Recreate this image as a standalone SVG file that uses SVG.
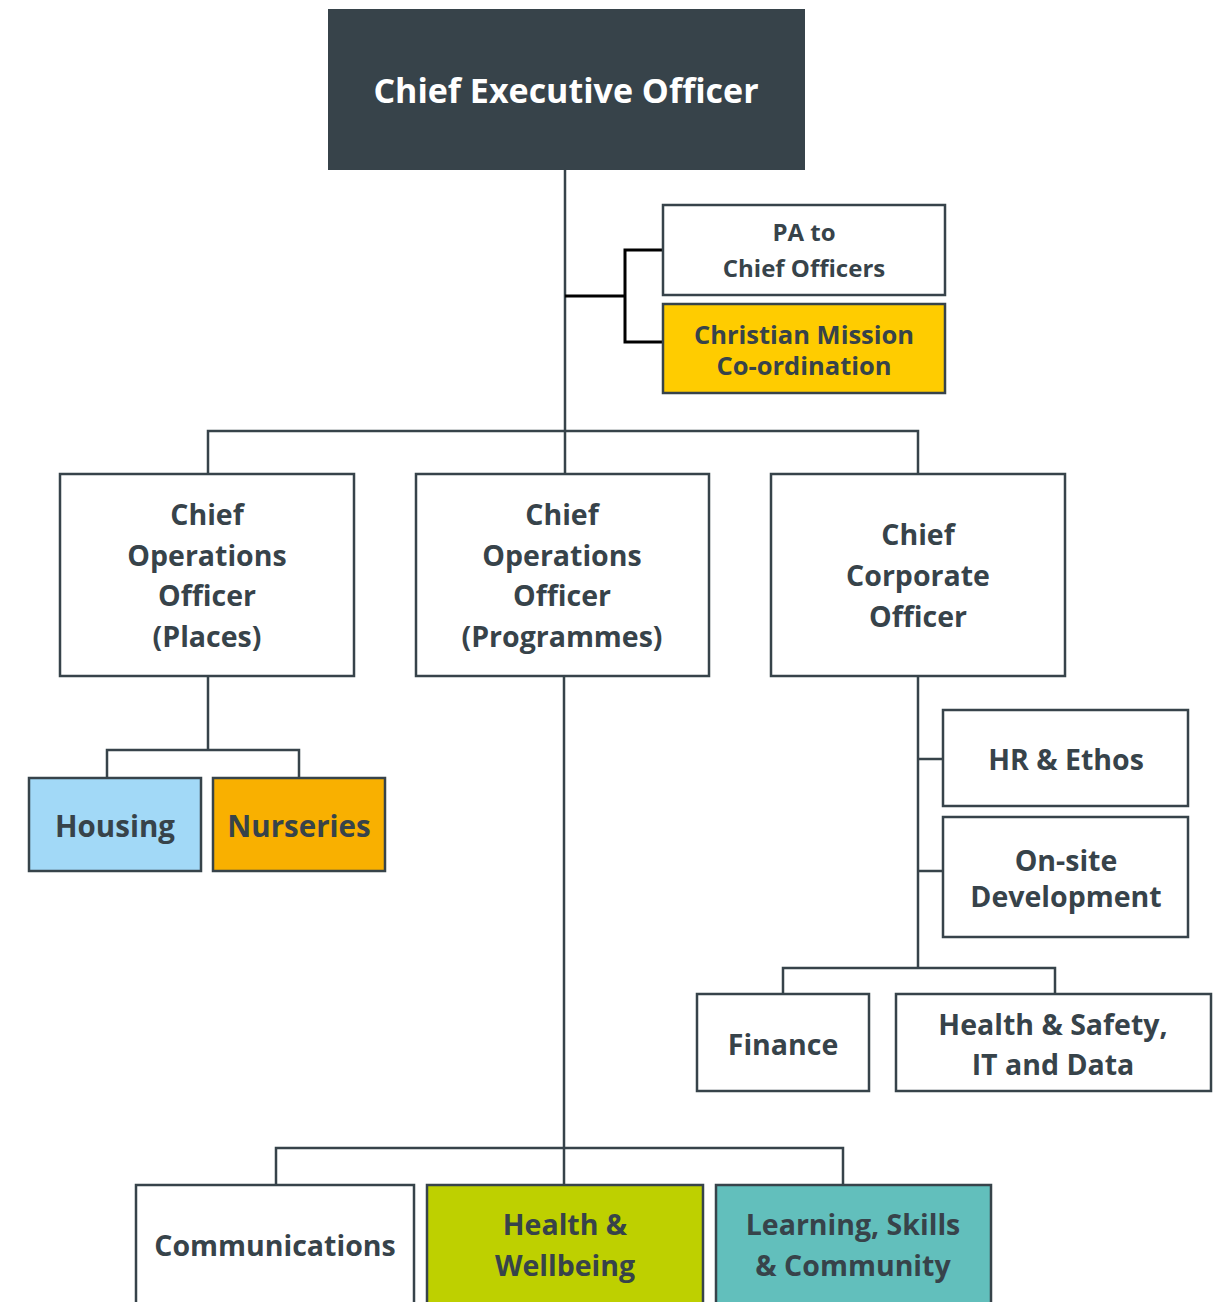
<svg xmlns="http://www.w3.org/2000/svg" width="1223" height="1302" viewBox="0 0 1223 1302">
<style>
.box{stroke:#37434a;stroke-width:2.5}
.t{font-family:"Open Sans","Noto Sans",sans-serif;font-weight:700;fill:#37434a;text-anchor:middle}
.c{fill:none;stroke:#37434a;stroke-width:2.5}
.k{fill:none;stroke:#000;stroke-width:3}
</style>
<rect width="1223" height="1302" fill="#fff"/>
<g id="connectors">
<path class="c" d="M565 170V431M208 474V431H918V474M565 431V474"/>
<path class="k" d="M565 296H625M663 250H625V342H663"/>
<path class="c" d="M208 676V750M107 778V750H299V778"/>
<path class="c" d="M918 676V968M918 759H943M918 871H943M783 994V968H1055V994"/>
<path class="c" d="M564 676V1148M276 1185V1148H843V1185M564 1148V1185"/>
</g>
<g id="ceo"><rect x="328" y="9" width="477" height="161" fill="#37434a"/><text class="t" x="566" y="103" font-size="34" style="fill:#fff">Chief Executive Officer</text></g>
<g id="pa"><rect class="box" x="663" y="205" width="282" height="90" fill="#fff"/><text class="t" x="804" y="241" font-size="24">PA to</text><text class="t" x="804" y="277" font-size="24">Chief Officers</text></g>
<g id="cm"><rect class="box" x="663" y="304" width="282" height="89" fill="#ffcc00"/><text class="t" x="804" y="344" font-size="25.5">Christian Mission</text><text class="t" x="804" y="375" font-size="25.5">Co-ordination</text></g>
<g id="coo-places"><rect class="box" x="60" y="474" width="294" height="202" fill="#fff"/><text class="t" x="207" y="525" font-size="28.5">Chief</text><text class="t" x="207" y="566" font-size="28.5">Operations</text><text class="t" x="207" y="606" font-size="28.5">Officer</text><text class="t" x="207" y="647" font-size="28.5">(Places)</text></g>
<g id="coo-prog"><rect class="box" x="416" y="474" width="293" height="202" fill="#fff"/><text class="t" x="562" y="525" font-size="28.5">Chief</text><text class="t" x="562" y="566" font-size="28.5">Operations</text><text class="t" x="562" y="606" font-size="28.5">Officer</text><text class="t" x="562" y="647" font-size="28.5">(Programmes)</text></g>
<g id="cco"><rect class="box" x="771" y="474" width="294" height="202" fill="#fff"/><text class="t" x="918" y="545" font-size="28.5">Chief</text><text class="t" x="918" y="586" font-size="28.5">Corporate</text><text class="t" x="918" y="627" font-size="28.5">Officer</text></g>
<g id="housing"><rect class="box" x="29" y="778" width="172" height="93" fill="#a2d9f7"/><text class="t" x="115" y="837" font-size="29.5">Housing</text></g>
<g id="nurseries"><rect class="box" x="213" y="778" width="172" height="93" fill="#f9b000"/><text class="t" x="299" y="837" font-size="29.5">Nurseries</text></g>
<g id="hr"><rect class="box" x="943" y="710" width="245" height="96" fill="#fff"/><text class="t" x="1066" y="770" font-size="28.5">HR &amp; Ethos</text></g>
<g id="onsite"><rect class="box" x="943" y="817" width="245" height="120" fill="#fff"/><text class="t" x="1066" y="871" font-size="28.5">On-site</text><text class="t" x="1066" y="907" font-size="28.5">Development</text></g>
<g id="finance"><rect class="box" x="697" y="994" width="172" height="97" fill="#fff"/><text class="t" x="783" y="1055" font-size="28.5">Finance</text></g>
<g id="hs"><rect class="box" x="896" y="994" width="315" height="97" fill="#fff"/><text class="t" x="1053" y="1035" font-size="28.5">Health &amp; Safety,</text><text class="t" x="1053" y="1075" font-size="28.5">IT and Data</text></g>
<g id="comms"><rect class="box" x="136" y="1185" width="278" height="130" fill="#fff"/><text class="t" x="275" y="1256" font-size="28.5">Communications</text></g>
<g id="hw"><rect class="box" x="427" y="1185" width="276" height="130" fill="#bed000"/><text class="t" x="565" y="1235" font-size="28.5">Health &amp;</text><text class="t" x="565" y="1276" font-size="28.5">Wellbeing</text></g>
<g id="lsc"><rect class="box" x="716" y="1185" width="275" height="130" fill="#62bfbc"/><text class="t" x="853" y="1235" font-size="28.5">Learning, Skills</text><text class="t" x="853" y="1276" font-size="28.5">&amp; Community</text></g>
</svg>
